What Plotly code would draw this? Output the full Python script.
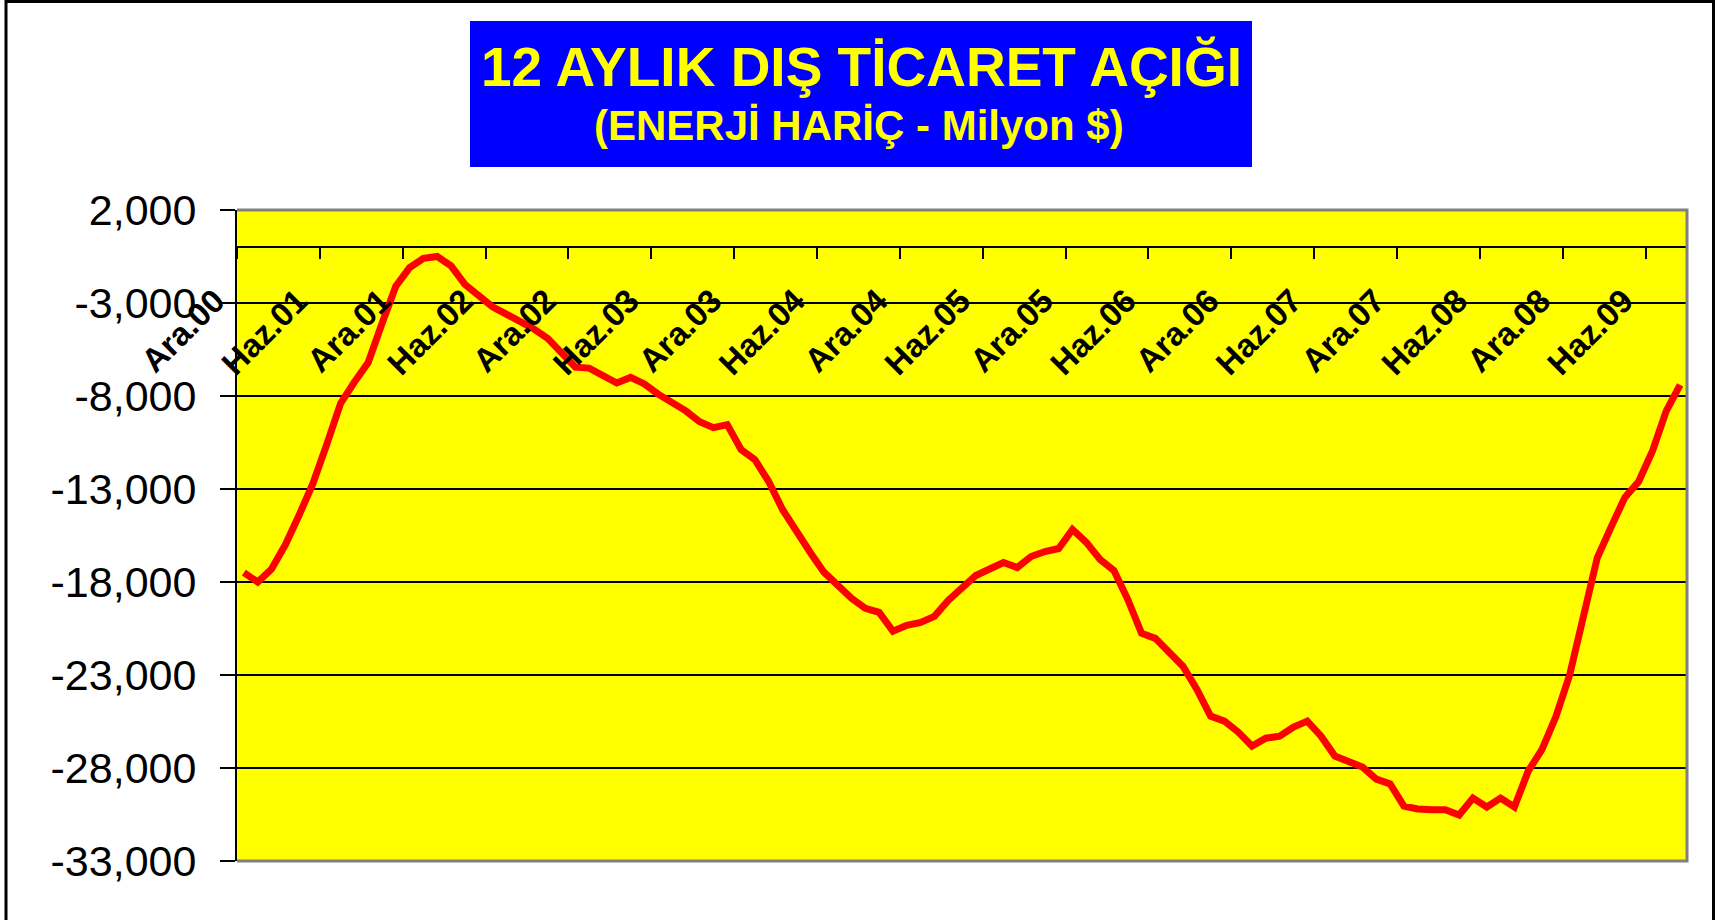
import plotly.graph_objects as go

# ---- data ----
values = [
    -17500, -18000, -17300, -16000, -14400, -12700, -10600, -8400, -7250, -6200,
    -4100, -2100, -1100, -600, -500, -1000, -2000, -2650, -3200, -3600,
    -3950, -4400, -4900, -5700, -6450, -6500, -6850, -7300, -7000, -7350,
    -7900, -8350, -8800, -9380, -9700, -9540, -10880, -11420, -12600, -14100,
    -15330, -16400, -17470, -18240, -18880, -19420, -19630, -20650, -20330, -20170,
    -19850, -18990, -18300, -17650, -17300, -16950, -17220, -16630, -16360, -16200,
    -15180, -15870, -16790, -17380, -18930, -20760, -21030, -21720, -22530, -23760,
    -25210, -25480, -26070, -26820, -26400, -26290, -25800, -25480, -26290, -27360,
    -27650, -27950, -28600, -28860, -30050, -30200, -30250, -30250, -30530, -29620,
    -30100, -29620, -30100, -28170, -27000, -25250, -23000, -19700, -16700, -15050,
    -13450, -12600, -10950, -8800, -7400,
]
tick_labels = ["Ara.00", "Haz.01", "Ara.01", "Haz.02", "Ara.02", "Haz.03",
               "Ara.03", "Haz.04", "Ara.04", "Haz.05", "Ara.05", "Haz.06",
               "Ara.06", "Haz.07", "Ara.07", "Haz.08", "Ara.08", "Haz.09"]
label_every = 6
y_ticks = [2000, -3000, -8000, -13000, -18000, -23000, -28000, -33000]
y_tick_text = [f"{v:,}" for v in y_ticks]

title1 = "12 AYLIK DIŞ TİCARET AÇIĞI"
title2 = "(ENERJİ HARİÇ - Milyon $)"

# ---- layout geometry (pixels) ----
W, H = 1717, 920
L, R, T, B = 237, 30, 210, 59
PW, PH = W - L - R, H - T - B
FONT = "Liberation Sans, Arial, sans-serif"


def px(xp):
    return (xp - L) / PW


def py(yp):
    return (H - B - yp) / PH


y_min, y_max = min(y_ticks), max(y_ticks)
x_idx = list(range(len(values)))
tickvals = [k * label_every - 0.5 for k in range(len(tick_labels))]

fig = go.Figure()
fig.add_trace(go.Scatter(
    x=x_idx, y=values, mode="lines",
    line=dict(color="#FF0000", width=7),
    hoverinfo="skip", showlegend=False,
))

zero_pos = (0 - y_min) / (y_max - y_min)

fig.update_layout(
    width=W, height=H,
    margin=dict(l=L, r=R, t=T, b=B, pad=0),
    paper_bgcolor="white",
    plot_bgcolor="#FFFF00",
    font=dict(family=FONT, color="black"),
    xaxis=dict(
        range=[-0.5, len(values) - 0.5],
        tickmode="array", tickvals=tickvals, ticktext=tick_labels,
        tickangle=-45,
        tickfont=dict(family=FONT, size=33, color="black", weight="bold"),
        ticks="outside", ticklen=11, tickwidth=2, tickcolor="black",
        ticklabelshift=-22, ticklabelstandoff=9,
        showline=True, linecolor="black", linewidth=2,
        showgrid=False, zeroline=False,
        anchor="free", position=zero_pos,
    ),
    yaxis=dict(
        range=[y_min, y_max],
        tickmode="array", tickvals=y_ticks, ticktext=y_tick_text,
        tickfont=dict(family=FONT, size=43, color="black"),
        ticks="outside", ticklen=15, tickwidth=2, tickcolor="black",
        ticklabelstandoff=15,
        showline=True, linecolor="black", linewidth=2,
        showgrid=True, gridcolor="black", gridwidth=2,
        zeroline=False,
    ),
    shapes=[
        # gray frame (top, right, bottom)
        dict(type="path", xref="paper", yref="paper",
             path="M 0,1 L 1,1 L 1,0 L 0,0",
             line=dict(color="#808080", width=3), layer="above"),
        # outer chart border
        dict(type="rect", xref="paper", yref="paper",
             x0=px(6), x1=px(1713.5), y0=py(930), y1=py(1.5),
             line=dict(color="black", width=3), fillcolor="rgba(0,0,0,0)"),
        # title box
        dict(type="rect", xref="paper", yref="paper",
             x0=px(470), x1=px(1252), y0=py(167), y1=py(21),
             line=dict(width=0), fillcolor="#0000FF"),
    ],
    annotations=[
        dict(text="<b>" + title1 + "</b>", xref="paper", yref="paper",
             x=px(861), y=py(67), xanchor="center", yanchor="middle",
             showarrow=False,
             font=dict(family=FONT, size=55, color="#FFFF00")),
        dict(text="<b>" + title2 + "</b>", xref="paper", yref="paper",
             x=px(859), y=py(125), xanchor="center", yanchor="middle",
             showarrow=False,
             font=dict(family=FONT, size=42, color="#FFFF00")),
    ],
)

fig.write_html(
    "out.html",
    config={"displayModeBar": False},
    post_script="document.body.style.margin='0';document.body.style.overflow='hidden';",
)
